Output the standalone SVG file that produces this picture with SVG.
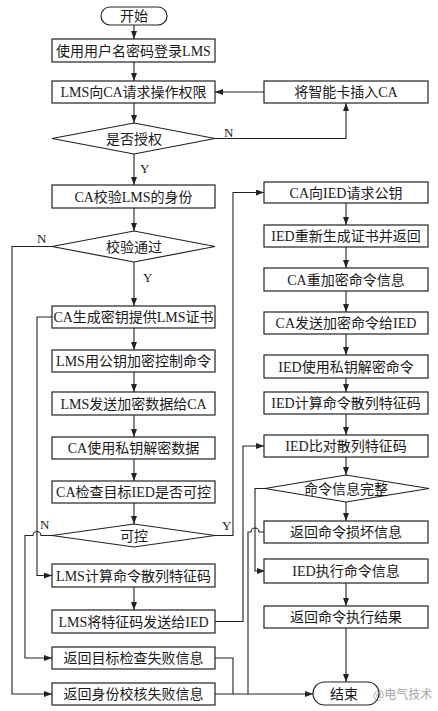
<svg xmlns="http://www.w3.org/2000/svg" width="438" height="711" viewBox="0 0 438 711">
<style>
.box{fill:#fff;stroke:#222;stroke-width:1.2}
.t{font-family:"Liberation Serif","Noto Sans CJK SC",serif;font-size:14px;fill:#1a1a1a;text-anchor:middle}
.lb{font-family:"Liberation Serif",serif;font-size:13px;fill:#1a1a1a}
.c{fill:none;stroke:#222;stroke-width:1.1}
.a{marker-end:url(#ah)}
</style>
<defs>
<marker id="ah" viewBox="0 0 8 6" refX="8" refY="3" markerWidth="8" markerHeight="6" markerUnits="userSpaceOnUse" orient="auto">
<path d="M0,0 L8,3 L0,6 Z" fill="#222"/>
</marker>
</defs>
<rect width="438" height="711" fill="#fff"/>

<g id="connectors">
<!-- left column down arrows -->
<path class="c a" d="M134,25 V39"/>
<path class="c a" d="M134,62 V81"/>
<path class="c a" d="M134,103 V123"/>
<path class="c a" d="M134,154 V185"/>
<path class="c a" d="M134,208 V231"/>
<path class="c a" d="M134,262 V306"/>
<path class="c a" d="M134,328 V350"/>
<path class="c a" d="M134,372 V392"/>
<path class="c a" d="M134,415 V437"/>
<path class="c a" d="M134,459 V481"/>
<path class="c a" d="M134,503 V524"/>
<path class="c a" d="M134,587 V610"/>
<!-- authorization N loop -->
<path class="c a" d="M215,138.5 H346 V103"/>
<path class="c a" d="M264,92 H215"/>
<!-- verify N -->
<path class="c a" d="M52,246.5 H12 V694 H52"/>
<!-- CA gen to LMS calc -->
<path class="c a" d="M52,317 H37 V575.5 H52"/>
<!-- controllable N with hop -->
<path class="c a" d="M52,535.5 H41 A4,4 0 0 0 33,535.5 H25 V658 H52"/>
<!-- controllable Y -->
<path class="c a" d="M215,535.5 H233 V192.5 H264"/>
<!-- LMS send feature to IED compare -->
<path class="c a" d="M215,621.5 H243 V446 H264"/>
<!-- target check fail to end -->
<path class="c" d="M215,658 H233 V694"/>
<!-- identity fail to end -->
<path class="c a" d="M215,694 H313"/>
<!-- right column down arrows -->
<path class="c a" d="M346,203 V225"/>
<path class="c a" d="M346,247 V268"/>
<path class="c a" d="M346,291 V312"/>
<path class="c a" d="M346,334 V355"/>
<path class="c a" d="M346,378 V392"/>
<path class="c a" d="M346,414 V435"/>
<path class="c a" d="M346,457 V475"/>
<path class="c a" d="M346,502 V521"/>
<path class="c a" d="M346,583 V606"/>
<path class="c a" d="M346,628 V682"/>
<!-- complete N -->
<path class="c a" d="M265,488.5 H255 V571 H265"/>
<!-- damaged to end with hop -->
<path class="c" d="M265,532 H259 A4,4 0 0 0 251,532 H248 V694"/>
</g>

<g id="start"><rect class="box" x="101" y="7" width="66" height="18" rx="9"/><text class="t" x="134" y="21">开始</text></g>
<g id="login"><rect class="box" x="52" y="39" width="163" height="23"/><text class="t" x="133.5" y="55.5">使用用户名密码登录LMS</text></g>
<g id="request"><rect class="box" x="52" y="81" width="163" height="22"/><text class="t" x="133.5" y="97">LMS向CA请求操作权限</text></g>
<g id="smartcard"><rect class="box" x="264" y="81" width="164" height="22"/><text class="t" x="346" y="97">将智能卡插入CA</text></g>
<g id="authorized"><path class="box" d="M52,138.5 L134,123 L215,138.5 L134,154 Z"/><text class="t" x="134" y="143.5">是否授权</text></g>
<g id="verifyLMS"><rect class="box" x="52" y="185" width="163" height="23"/><text class="t" x="133.5" y="201.5">CA校验LMS的身份</text></g>
<g id="verifyPass"><path class="box" d="M52,246.5 L134,231 L215,246.5 L134,262 Z"/><text class="t" x="134" y="251.5">校验通过</text></g>
<g id="caGen"><rect class="box" x="52" y="306" width="163" height="22"/><text class="t" x="133.5" y="322">CA生成密钥提供LMS证书</text></g>
<g id="lmsEncrypt"><rect class="box" x="52" y="350" width="163" height="22"/><text class="t" x="133.5" y="366">LMS用公钥加密控制命令</text></g>
<g id="lmsSend"><rect class="box" x="52" y="392" width="163" height="23"/><text class="t" x="133.5" y="408.5">LMS发送加密数据给CA</text></g>
<g id="caDecrypt"><rect class="box" x="52" y="437" width="163" height="22"/><text class="t" x="133.5" y="453">CA使用私钥解密数据</text></g>
<g id="caCheck"><rect class="box" x="52" y="481" width="163" height="22"/><text class="t" x="133.5" y="497">CA检查目标IED是否可控</text></g>
<g id="controllable"><path class="box" d="M52,535.5 L134,524 L215,535.5 L134,547 Z"/><text class="t" x="134" y="540.5">可控</text></g>
<g id="lmsHash"><rect class="box" x="52" y="564" width="163" height="23"/><text class="t" x="133.5" y="580.5">LMS计算命令散列特征码</text></g>
<g id="lmsSendHash"><rect class="box" x="52" y="610" width="163" height="23"/><text class="t" x="133.5" y="626.5">LMS将特征码发送给IED</text></g>
<g id="targetFail"><rect class="box" x="52" y="647" width="163" height="22"/><text class="t" x="133.5" y="663">返回目标检查失败信息</text></g>
<g id="identityFail"><rect class="box" x="52" y="683" width="163" height="22"/><text class="t" x="133.5" y="699">返回身份校核失败信息</text></g>

<g id="caReqKey"><rect class="box" x="264" y="182" width="164" height="21"/><text class="t" x="346" y="197.5">CA向IED请求公钥</text></g>
<g id="iedRegen"><rect class="box" x="264" y="225" width="164" height="22"/><text class="t" x="346" y="241">IED重新生成证书并返回</text></g>
<g id="caReencrypt"><rect class="box" x="264" y="268" width="164" height="23"/><text class="t" x="346" y="284.5">CA重加密命令信息</text></g>
<g id="caSendCmd"><rect class="box" x="264" y="312" width="164" height="22"/><text class="t" x="346" y="328">CA发送加密命令给IED</text></g>
<g id="iedDecrypt"><rect class="box" x="264" y="355" width="164" height="23"/><text class="t" x="346" y="371.5">IED使用私钥解密命令</text></g>
<g id="iedHash"><rect class="box" x="264" y="392" width="164" height="22"/><text class="t" x="346" y="408">IED计算命令散列特征码</text></g>
<g id="iedCompare"><rect class="box" x="264" y="435" width="164" height="22"/><text class="t" x="346" y="451">IED比对散列特征码</text></g>
<g id="complete"><path class="box" d="M265,488.5 L346,475 L429,488.5 L346,502 Z"/><text class="t" x="346" y="493.5">命令信息完整</text></g>
<g id="damaged"><rect class="box" x="264" y="521" width="164" height="22"/><text class="t" x="346" y="537">返回命令损坏信息</text></g>
<g id="iedExec"><rect class="box" x="264" y="559" width="164" height="24"/><text class="t" x="346" y="576">IED执行命令信息</text></g>
<g id="execResult"><rect class="box" x="264" y="606" width="164" height="22"/><text class="t" x="346" y="622">返回命令执行结果</text></g>
<g id="end"><rect class="box" x="313" y="682" width="66" height="23" rx="11.5"/><text class="t" x="344" y="699">结束</text></g>

<g id="labels">
<text class="lb" x="224" y="137">N</text>
<text class="lb" x="140" y="173">Y</text>
<text class="lb" x="37" y="243">N</text>
<text class="lb" x="143" y="282">Y</text>
<text class="lb" x="40" y="529">N</text>
<text class="lb" x="222" y="530">Y</text>
</g>
<text x="373" y="699" font-family="Noto Sans CJK SC, sans-serif" font-size="12" fill="#777" fill-opacity="0.7">@电气技术</text>
</svg>
